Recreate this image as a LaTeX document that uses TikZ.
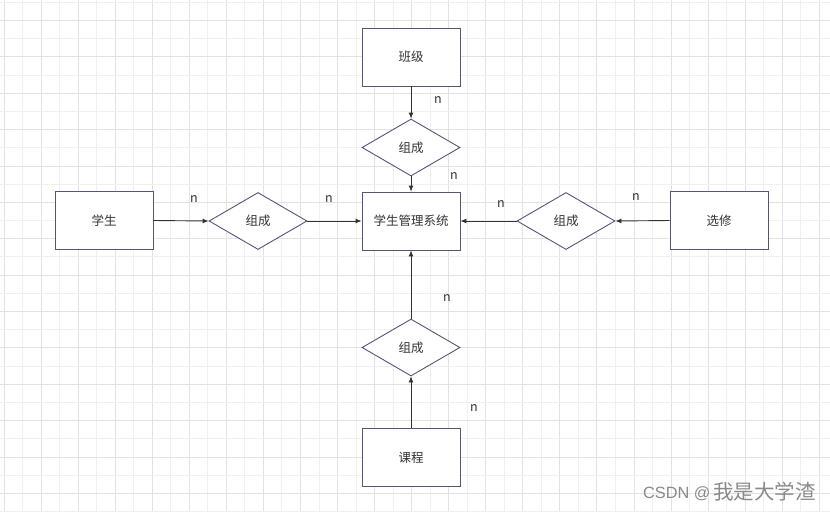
\documentclass[tikz,border=0pt]{standalone}
\usepackage{fontspec}
\setmainfont{Noto Sans CJK SC}
\newfontfamily\wmlatin{Liberation Sans}
\usetikzlibrary{shapes.geometric,arrows.meta}
\definecolor{gridlight}{HTML}{F0F0F0}
\definecolor{griddark}{HTML}{E2E2E2}
\definecolor{shapeline}{HTML}{55557A}
\definecolor{txt}{HTML}{333333}
\definecolor{wm}{HTML}{8A8A8A}
\tikzset{
  entity/.style={draw=shapeline, line width=0.9pt, fill=white, rectangle,
    minimum width=98pt, minimum height=58pt, inner sep=0pt,
    text=txt, font=\fontsize{12.5}{14}\selectfont},
  relation/.style={draw=shapeline, line width=0.9pt, fill=white, diamond,
    minimum width=98pt, minimum height=57pt, inner sep=0pt,
    text=txt, font=\fontsize{12.5}{14}\selectfont},
  conn/.style={draw=txt, line width=0.9pt, -{Latex[length=6pt,width=5pt]}},
  card/.style={text=txt, font=\fontsize{12.5}{14}\selectfont, inner sep=0pt},
  wmtext/.style={text=wm, inner sep=0pt}
}
\begin{document}
\begin{tikzpicture}[x=1pt,y=-1pt]
\useasboundingbox (0,0) rectangle (830,512);
\fill[white] (0,0) rectangle (830,512);
% grid
\foreach \k in {0,...,44}{
  \pgfmathsetmacro{\xx}{4+18.53*\k}
  \pgfmathtruncatemacro{\kpar}{mod(\k,2)}
  \ifnum\kpar=0
    \draw[griddark, line width=1pt] (\xx,0) -- (\xx,512);
  \else
    \draw[gridlight, line width=1pt] (\xx,0) -- (\xx,512);
  \fi
}
\foreach \k in {0,...,28}{
  \pgfmathsetmacro{\yy}{2.3+18.19*\k}
  \pgfmathtruncatemacro{\kpar}{mod(\k,2)}
  \ifnum\kpar=1
    \draw[griddark, line width=1pt] (0,\yy) -- (830,\yy);
  \else
    \draw[gridlight, line width=1pt] (0,\yy) -- (830,\yy);
  \fi
}
% nodes
\node[entity] (banji) at (411,57) {班级};
\node[relation] (dt) at (411,147.5) {组成};
\node[entity] (sys) at (411,221) {学生管理系统};
\node[entity] (xs) at (104,220.5) {学生};
\node[relation] (dl) at (258,221) {组成};
\node[relation] (dr) at (566,221) {组成};
\node[entity] (xx) at (719,220.5) {选修};
\node[relation] (db) at (411,347.5) {组成};
\node[entity] (kc) at (411,457.5) {课程};
% connectors
\draw[conn] (banji.south) -- (dt.north);
\draw[conn] (dt.south) -- (sys.north);
\draw[conn] (xs.east) -- (dl.west);
\draw[conn] (dl.east) -- (sys.west);
\draw[conn] (xx.west) -- (dr.east);
\draw[conn] (dr.west) -- (sys.east);
\draw[conn] (kc.north) -- (db.south);
\draw[conn] (db.north) -- (sys.south);
% cardinalities
\node[card] (n1) at (438,100) {n};
\node[card] (n2) at (454,176) {n};
\node[card] (n3) at (194,199) {n};
\node[card] (n4) at (329,199) {n};
\node[card] (n5) at (501,204) {n};
\node[card] (n6) at (636,197) {n};
\node[card] (n7) at (447,298) {n};
\node[card] (n8) at (474,408) {n};
% watermark
\node[wmtext, font=\wmlatin\fontsize{16.3}{18}\selectfont, anchor=base west] (wmA) at (643,498.7) {CSDN @};
\node[wmtext, font=\fontsize{20.5}{22}\selectfont, anchor=west] (wmB) at (713,492) {我是大学渣};
\end{tikzpicture}
\end{document}
